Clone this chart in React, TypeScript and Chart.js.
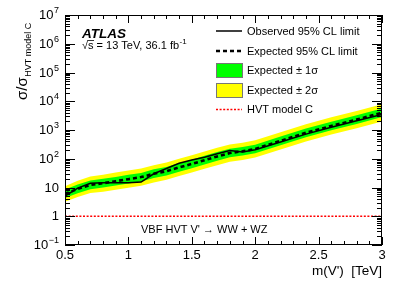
import React, { useEffect, useRef } from 'react';
import { Chart, registerables } from 'chart.js';

Chart.register(...registerables);

// ---------------- data ----------------
const masses = [0.5, 0.6, 0.7, 0.8, 0.9, 1.0, 1.1, 1.2, 1.3, 1.4, 1.5, 1.6, 1.7, 1.8, 1.9, 2.0, 2.2, 2.4, 2.6, 2.8, 3.0];
const observed = [5.0, 9.5, 14, 14.5, 14.5, 14.5, 15.5, 30, 46, 70, 90, 112, 150, 195, 172, 205, 380, 720, 1250, 2100, 3500];
const expected = [6.0, 8.9, 12.3, 14.1, 16.6, 19.5, 23, 30, 37, 50, 66, 89, 120, 158, 182, 220, 420, 800, 1380, 2300, 4000];
const plus2 = [11, 17, 24, 28, 33, 39, 46, 60, 74, 100, 132, 178, 240, 316, 363, 437, 832, 1585, 2754, 4571, 7943];
const plus1 = [8.5, 12.6, 17.4, 20, 23.4, 27.5, 32, 43, 52, 71, 93, 126, 170, 224, 257, 309, 589, 1122, 1950, 3236, 5623];
const minus1 = [4.3, 6.3, 8.7, 10, 11.7, 13.8, 16.2, 21.4, 26, 35.5, 47, 63, 85, 112, 129, 155, 295, 562, 977, 1622, 2818];
const minus2 = [3.2, 4.7, 6.5, 7.1, 8.3, 9.8, 11.5, 15, 18.6, 25, 33, 45, 60, 79, 91, 110, 209, 398, 692, 1148, 1995];
const hvtMasses = [0.5, 3.0];
const hvtValues = [1, 1];

const xTickValues = [0.5, 1, 1.5, 2, 2.5, 3];
const xTickLabels = ['0.5', '1', '1.5', '2', '2.5', '3'];
const yTickValues = [0.1, 1, 10, 100, 1e3, 1e4, 1e5, 1e6, 1e7];
const yTickLabels = ['10^−1', '1', '10', '10^2', '10^3', '10^4', '10^5', '10^6', '10^7'];

const legendLabels = ['Observed 95% CL limit', 'Expected 95% CL limit', 'Expected ± 1σ', 'Expected ± 2σ', 'HVT model C'];
const xTitle = "m(V')  [TeV]";
const yTitleMain = 'σ/σ';
const yTitleSub = 'HVT model C';
const atlasLabel = 'ATLAS';
const energyLabel = '√s = 13 TeV, 36.1 fb';
const energySup = '-1';
const processLabel = "VBF HVT V' → WW + WZ";

const FONT = "'Liberation Sans', Arial, Helvetica, sans-serif";
const GREEN = '#00ff00';
const YELLOW = '#ffff00';

const pts = (xs: number[], ys: number[]) => xs.map((x, i) => ({ x, y: ys[i] }));

const decor = {
  id: 'decor',
  afterDraw(chart: any) {
    const { ctx, chartArea: ca, scales } = chart;
    const xs = scales.x;
    const ys = scales.y;
    ctx.save();
    ctx.strokeStyle = '#000';
    ctx.fillStyle = '#000';
    ctx.lineWidth = 1;
    const line = (x1: number, y1: number, x2: number, y2: number) => {
      ctx.beginPath();
      ctx.moveTo(x1, y1);
      ctx.lineTo(x2, y2);
      ctx.stroke();
    };
    // frame
    ctx.strokeRect(ca.left + 0.5, ca.top + 0.5, ca.right - ca.left - 1, ca.bottom - ca.top - 1);
    // x ticks (major every 0.5, minor every 0.1)
    for (let i = 0; i <= 25; i++) {
      const v = 0.5 + i * 0.1;
      const px = Math.round(xs.getPixelForValue(v)) + 0.5;
      const len = i % 5 === 0 ? 8 : 4;
      line(px, ca.bottom, px, ca.bottom - len);
      line(px, ca.top, px, ca.top + len);
    }
    // y ticks (log)
    for (let e = -1; e <= 7; e++) {
      for (let m = 1; m <= 9; m++) {
        const v = m * Math.pow(10, e);
        if (v > 1e7 * 1.0001) break;
        const py = Math.round(ys.getPixelForValue(v)) + 0.5;
        const len = m === 1 ? 10 : 5;
        line(ca.left, py, ca.left + len, py);
        line(ca.right, py, ca.right - len, py);
      }
    }
    // y tick labels with superscripts
    ctx.textBaseline = 'middle';
    ctx.textAlign = 'left';
    const R = 59;
    yTickValues.forEach((v, i) => {
      const py = ys.getPixelForValue(v);
      const [base, exp] = yTickLabels[i].split('^');
      ctx.font = `13px ${FONT}`;
      const bw = ctx.measureText(base).width;
      let ew = 0;
      if (exp) {
        ctx.font = `9px ${FONT}`;
        ew = ctx.measureText(exp).width + 0.5;
        ctx.textBaseline = 'alphabetic';
        ctx.fillText(exp, R - ew + 0.5, py - 2);
        ctx.textBaseline = 'middle';
      }
      ctx.font = `13px ${FONT}`;
      ctx.fillText(base, R - ew - bw, py + 0.5);
    });
    // y title (rotated)
    ctx.save();
    ctx.translate(27, 100);
    ctx.rotate(-Math.PI / 2);
    ctx.textBaseline = 'alphabetic';
    ctx.font = `15px ${FONT}`;
    ctx.fillText(yTitleMain, 0, 0);
    const mw = ctx.measureText(yTitleMain).width;
    ctx.font = `9px ${FONT}`;
    ctx.fillText(yTitleSub, mw + 0.5, 4);
    ctx.restore();
    // ATLAS label
    ctx.textBaseline = 'alphabetic';
    ctx.font = `italic bold 13.5px ${FONT}`;
    ctx.fillText(atlasLabel, 82, 38);
    ctx.font = `11px ${FONT}`;
    ctx.fillText(energyLabel, 82, 49);
    const sqrtW = ctx.measureText('√').width;
    const sW = ctx.measureText('√s').width;
    ctx.lineWidth = 0.8;
    line(82 + sqrtW - 0.5, 40.5, 82 + sW + 0.5, 40.5);
    ctx.lineWidth = 1;
    const ew2 = ctx.measureText(energyLabel).width;
    ctx.font = `8px ${FONT}`;
    ctx.fillText(energySup, 82 + ew2 + 0.5, 44);
    // process label
    ctx.font = `11px ${FONT}`;
    ctx.textBaseline = 'middle';
    ctx.fillText(processLabel, 141, 229.5);
    // legend
    const lx0 = 216;
    const lx1 = 242;
    const tx = 247;
    const rows = [31, 51, 70.5, 90, 109.5];
    ctx.font = `11px ${FONT}`;
    rows.forEach((ry, i) => {
      ctx.fillStyle = '#000';
      ctx.fillText(legendLabels[i], tx, ry + 0.5);
    });
    // observed sample
    ctx.strokeStyle = '#000';
    ctx.lineWidth = 1.5;
    line(lx0, rows[0], lx1, rows[0]);
    // expected sample
    ctx.lineWidth = 2.6;
    ctx.setLineDash([4, 3]);
    line(lx0, rows[1], lx1, rows[1]);
    // hvt sample
    ctx.strokeStyle = '#ff0000';
    ctx.lineWidth = 1.6;
    ctx.setLineDash([2, 1.6]);
    line(lx0, rows[4], lx1, rows[4]);
    ctx.setLineDash([]);
    // band samples
    ctx.lineWidth = 1;
    ctx.strokeStyle = '#777';
    ctx.fillStyle = GREEN;
    ctx.fillRect(lx0, 63.5, lx1 - lx0, 14);
    ctx.strokeRect(lx0 + 0.5, 63.5, lx1 - lx0, 14);
    ctx.fillStyle = YELLOW;
    ctx.fillRect(lx0, 83, lx1 - lx0, 14);
    ctx.strokeRect(lx0 + 0.5, 83.5, lx1 - lx0, 14);
    ctx.restore();
  },
};

export default function App() {
  const ref = useRef<HTMLCanvasElement | null>(null);
  useEffect(() => {
    if (!ref.current) return;
    const common = { pointRadius: 0, tension: 0 };
    const chart = new Chart(ref.current, {
      type: 'line',
      data: {
        datasets: [
          { ...common, label: '-2σ', data: pts(masses, minus2), borderWidth: 0, fill: false, order: 10, borderColor: 'rgba(0,0,0,0)' },
          { ...common, label: legendLabels[3], data: pts(masses, plus2), borderWidth: 0, backgroundColor: YELLOW, borderColor: 'rgba(0,0,0,0)', fill: 0, order: 9 },
          { ...common, label: '-1σ', data: pts(masses, minus1), borderWidth: 0, fill: false, order: 8, borderColor: 'rgba(0,0,0,0)' },
          { ...common, label: legendLabels[2], data: pts(masses, plus1), borderWidth: 0, backgroundColor: GREEN, borderColor: 'rgba(0,0,0,0)', fill: 2, order: 7 },
          { ...common, label: legendLabels[4], data: pts(hvtMasses, hvtValues), borderColor: '#ff0000', borderWidth: 1.6, borderDash: [2, 1.6], fill: false, order: 3 },
          { ...common, label: legendLabels[1], data: pts(masses, expected), borderColor: '#000', borderWidth: 2.6, borderDash: [4, 3], fill: false, order: 2 },
          { ...common, label: legendLabels[0], data: pts(masses, observed), borderColor: '#000', borderWidth: 1.5, fill: false, order: 1 },
        ],
      },
      options: {
        animation: false,
        responsive: false,
        devicePixelRatio: 1,
        layout: { padding: { top: 15, right: 21, left: 0, bottom: 0 } },
        plugins: { legend: { display: false }, tooltip: { enabled: false } },
        scales: {
          x: {
            type: 'linear',
            min: 0.5,
            max: 3,
            afterBuildTicks: (s: any) => {
              s.ticks = xTickValues.map((v) => ({ value: v }));
            },
            afterFit: (s: any) => {
              s.height = 47;
            },
            ticks: {
              autoSkip: false,
              maxRotation: 0,
              padding: 3,
              color: '#000',
              font: { family: FONT, size: 13 },
              callback: (_v: any, i: number) => xTickLabels[i],
            },
            grid: { display: false, drawTicks: false },
            border: { display: false },
            title: {
              display: true,
              text: xTitle,
              align: 'end',
              color: '#000',
              font: { family: FONT, size: 13.5 },
              padding: { top: 0, bottom: 13 },
            },
          },
          y: {
            type: 'logarithmic',
            min: 0.1,
            max: 1e7,
            afterFit: (s: any) => {
              s.width = 65;
            },
            ticks: { display: false },
            grid: { display: false, drawTicks: false },
            border: { display: false },
          },
        },
      },
      plugins: [decor],
    } as any);
    return () => chart.destroy();
  }, []);
  return (
    <div style={{ position: 'absolute', left: 0, top: 0, width: 403, height: 292, background: '#fff' }}>
      <canvas ref={ref} width={403} height={292} style={{ display: 'block' }} />
    </div>
  );
}
